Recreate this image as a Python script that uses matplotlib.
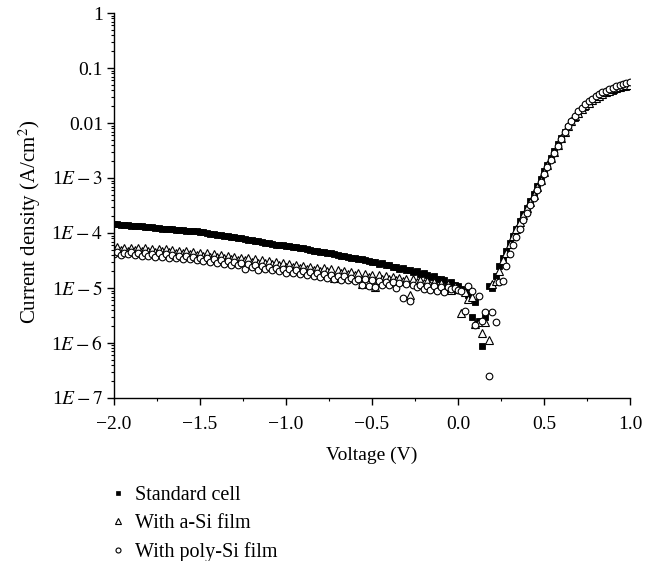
import numpy as np
import matplotlib
matplotlib.use("Agg")
import matplotlib.pyplot as plt
from matplotlib.ticker import FixedLocator, LogLocator, MultipleLocator, NullFormatter
from matplotlib.lines import Line2D

plt.rcParams['font.family'] = ['Liberation Serif', 'DejaVu Serif']
plt.rcParams['mathtext.fontset'] = 'stix'
plt.rcParams['axes.unicode_minus'] = True

# Voltage sweep (V): -2.00 ... 1.00 in 0.02 V steps
voltage = np.linspace(-2.0, 1.0, 151)

# log10 of current density (A/cm^2)
log_j_standard = [
    -3.84, -3.84, -3.85, -3.86, -3.86, -3.87, -3.87, -3.88, -3.88, -3.89,
    -3.89, -3.90, -3.91, -3.91, -3.92, -3.92, -3.93, -3.93, -3.94, -3.95,
    -3.95, -3.96, -3.96, -3.97, -3.97, -3.98, -3.99, -4.00, -4.01, -4.02,
    -4.03, -4.04, -4.05, -4.06, -4.07, -4.08, -4.09, -4.10, -4.11, -4.12,
    -4.13, -4.14, -4.15, -4.17, -4.18, -4.19, -4.20, -4.21, -4.22, -4.22,
    -4.23, -4.24, -4.25, -4.26, -4.27, -4.28, -4.30, -4.31, -4.32, -4.33,
    -4.34, -4.35, -4.36, -4.37, -4.39, -4.40, -4.41, -4.42, -4.43, -4.45,
    -4.46, -4.47, -4.48, -4.49, -4.51, -4.53, -4.52, -4.56, -4.55, -4.59,
    -4.58, -4.62, -4.61, -4.65, -4.64, -4.68, -4.67, -4.71, -4.70, -4.74,
    -4.73, -4.76, -4.80, -4.78, -4.83, -4.84, -4.86, -4.92, -4.90, -4.95,
    -4.96, -5.01, -5.07, -5.12, -5.53, -5.25, -5.60, -6.05, -5.53, -4.97,
    -5.00, -4.78, -4.60, -4.45, -4.32, -4.18, -4.05, -3.92, -3.78, -3.66,
    -3.54, -3.42, -3.30, -3.15, -3.02, -2.88, -2.76, -2.63, -2.51, -2.39,
    -2.28, -2.17, -2.07, -1.98, -1.90, -1.83, -1.76, -1.70, -1.65, -1.60,
    -1.56, -1.52, -1.49, -1.46, -1.43, -1.41, -1.39, -1.37, -1.35, -1.34,
    -1.32,
]

log_j_asi = [
    -4.30, -4.26, -4.31, -4.27, -4.32, -4.28, -4.31, -4.27, -4.33, -4.28,
    -4.32, -4.29, -4.34, -4.30, -4.33, -4.29, -4.35, -4.31, -4.36, -4.32,
    -4.37, -4.33, -4.38, -4.35, -4.40, -4.36, -4.41, -4.37, -4.43, -4.39,
    -4.44, -4.40, -4.46, -4.42, -4.47, -4.43, -4.49, -4.45, -4.50, -4.46,
    -4.52, -4.48, -4.54, -4.50, -4.55, -4.51, -4.57, -4.53, -4.59, -4.55,
    -4.61, -4.57, -4.62, -4.58, -4.64, -4.60, -4.66, -4.62, -4.67, -4.63,
    -4.69, -4.64, -4.70, -4.66, -4.82, -4.68, -4.73, -4.69, -4.75, -4.71,
    -4.77, -4.72, -4.93, -4.74, -4.80, -4.76, -4.98, -4.77, -4.83, -4.78,
    -4.84, -4.80, -4.86, -4.81, -4.87, -4.83, -5.12, -4.84, -4.90, -4.86,
    -4.91, -4.87, -4.95, -4.89, -4.98, -4.91, -5.00, -4.93, -5.03, -4.96,
    -5.02, -5.46, -5.08, -5.20, -5.16, -5.65, -5.62, -5.82, -5.62, -5.95,
    -4.92, -4.87, -4.70, -4.50, -4.36, -4.20, -4.06, -3.93, -3.80, -3.68,
    -3.55, -3.43, -3.31, -3.17, -3.03, -2.89, -2.77, -2.64, -2.52, -2.40,
    -2.28, -2.17, -2.06, -1.97, -1.88, -1.81, -1.74, -1.68, -1.63, -1.58,
    -1.54, -1.50, -1.47, -1.44, -1.41, -1.39, -1.37, -1.35, -1.33, -1.31,
    -1.30,
]

log_j_polysi = [
    -4.38, -4.35, -4.40, -4.36, -4.39, -4.34, -4.40, -4.36, -4.41, -4.37,
    -4.42, -4.38, -4.43, -4.37, -4.44, -4.39, -4.45, -4.40, -4.46, -4.41,
    -4.47, -4.42, -4.48, -4.44, -4.50, -4.45, -4.51, -4.46, -4.53, -4.48,
    -4.54, -4.50, -4.56, -4.51, -4.58, -4.53, -4.59, -4.55, -4.65, -4.56,
    -4.62, -4.58, -4.68, -4.60, -4.65, -4.62, -4.67, -4.63, -4.70, -4.65,
    -4.72, -4.66, -4.73, -4.68, -4.75, -4.70, -4.77, -4.71, -4.78, -4.73,
    -4.80, -4.74, -4.81, -4.76, -4.83, -4.78, -4.85, -4.79, -4.86, -4.81,
    -4.87, -4.83, -4.95, -4.84, -4.96, -4.86, -4.99, -4.88, -4.94, -4.89,
    -4.95, -4.90, -5.00, -4.91, -5.18, -4.93, -5.24, -4.94, -4.99, -4.95,
    -5.01, -4.96, -5.03, -4.97, -5.05, -4.98, -5.07, -4.99, -5.02, -5.00,
    -5.04, -5.05, -5.42, -4.96, -5.05, -5.67, -5.14, -5.60, -5.44, -6.60,
    -5.44, -5.62, -4.89, -4.88, -4.60, -4.38, -4.22, -4.07, -3.92, -3.77,
    -3.63, -3.49, -3.36, -3.22, -3.08, -2.93, -2.80, -2.67, -2.54, -2.41,
    -2.29, -2.17, -2.06, -1.96, -1.87, -1.79, -1.72, -1.66, -1.60, -1.56,
    -1.51, -1.47, -1.44, -1.41, -1.38, -1.36, -1.33, -1.31, -1.29, -1.28,
    -1.26,
]

series_labels = ["Standard cell", "With a-Si film", "With poly-Si film"]
y_tick_values = [1e-7, 1e-6, 1e-5, 1e-4, 1e-3, 1e-2, 1e-1, 1]
y_tick_labels = [r"1$E-7$", r"1$E-6$", r"1$E-5$", r"1$E-4$", r"1$E-3$", "0.01", "0.1", "1"]

j_standard = 10.0 ** np.array(log_j_standard)
j_asi = 10.0 ** np.array(log_j_asi)
j_polysi = 10.0 ** np.array(log_j_polysi)

FS = 14

fig = plt.figure(figsize=(6.68, 5.61), dpi=100)
ax = fig.add_axes([0.1707, 0.2906, 0.943 - 0.1707, 0.9768 - 0.2906])

ax.plot(voltage, j_standard, linestyle='none', marker='s', ms=4.4,
        mfc='black', mec='black', mew=0.6)
ax.plot(voltage, j_asi, linestyle='none', marker='^', ms=5.2,
        mfc='white', mec='black', mew=0.8)
ax.plot(voltage, j_polysi, linestyle='none', marker='o', ms=4.8,
        mfc='white', mec='black', mew=0.8)

ax.set_yscale('log')
ax.set_ylim(1e-7, 1)
ax.set_xlim(-2.0, 1.0)
ax.yaxis.set_major_locator(FixedLocator(y_tick_values))
ax.set_yticklabels(y_tick_labels)
ax.yaxis.set_minor_locator(LogLocator(base=10, subs=np.arange(2, 10), numticks=20))
ax.yaxis.set_minor_formatter(NullFormatter())
ax.xaxis.set_major_locator(MultipleLocator(0.5))
ax.xaxis.set_minor_locator(MultipleLocator(0.25))
ax.xaxis.set_major_formatter(matplotlib.ticker.FuncFormatter(
    lambda v, p: f"{v:.1f}".replace("-", "\u2212")))

for s in ['top', 'right']:
    ax.spines[s].set_visible(False)
for s in ['left', 'bottom']:
    ax.spines[s].set_linewidth(1.0)

ax.tick_params(axis='both', which='major', direction='out', length=5, width=1,
               labelsize=FS, pad=3)
ax.tick_params(axis='x', which='major', pad=8)
ax.tick_params(axis='both', which='minor', direction='out', length=2.5, width=0.8)

ax.set_xlabel("Voltage (V)", fontsize=FS, labelpad=10)
ax.set_ylabel(r"Current density (A/cm$^2$)", fontsize=FS + 1, labelpad=5)
ax.yaxis.set_label_coords(-0.137, 0.457)

handles = [
    Line2D([], [], linestyle='none', marker='s', ms=3.4, mfc='black', mec='black', mew=0.5),
    Line2D([], [], linestyle='none', marker='^', ms=3.8, mfc='white', mec='black', mew=0.8),
    Line2D([], [], linestyle='none', marker='o', ms=3.6, mfc='white', mec='black', mew=0.8),
]
fig.legend(handles, series_labels, loc='upper left',
           bbox_to_anchor=(110 / 668, 1 - 486 / 561), frameon=False,
           fontsize=FS + 0.5, handlelength=0.8, handletextpad=0.45,
           labelspacing=0.45, borderpad=0.0, borderaxespad=0.0)

fig.savefig("out.png", dpi=100)
